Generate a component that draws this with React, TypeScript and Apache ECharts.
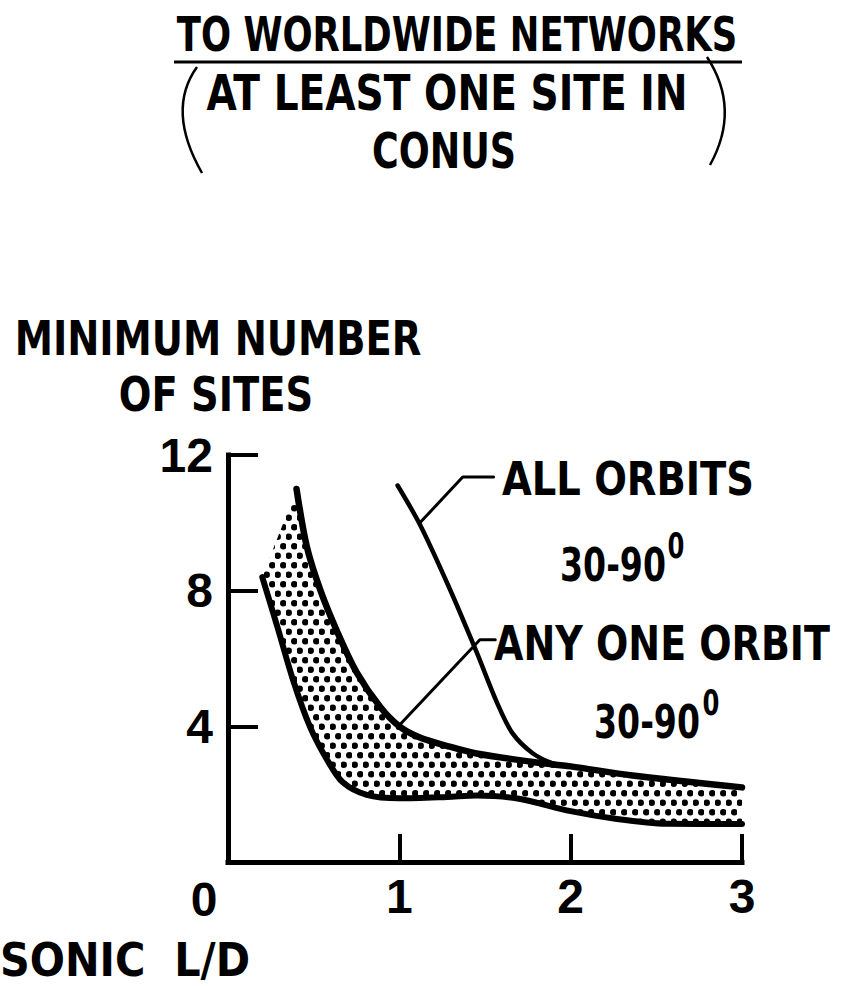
import React, { useEffect, useRef } from 'react';
import * as echarts from 'echarts';

// Axis ranges and tick spacing
const xRange = [0, 3];
const xStep = 1;
const yRange = [0, 12];
const yStep = 4;

// Upper edge of the stippled band: [sonic L/D, minimum number of sites]
const upperBand: [number, number][] = [
  [0.4, 11.0], [0.46, 9.3], [0.54, 8.0], [0.64, 6.76], [0.75, 5.6], [0.89, 4.56],
  [1.0, 4.0], [1.12, 3.67], [1.28, 3.42], [1.45, 3.2], [1.78, 2.95], [2.0, 2.82],
  [2.36, 2.55], [3.0, 2.2],
];

// Lower edge of the stippled band
const lowerBand: [number, number][] = [
  [0.2, 8.4], [0.29, 6.9], [0.38, 5.36], [0.48, 3.97], [0.58, 3.0], [0.67, 2.35],
  [0.81, 1.98], [1.0, 1.88], [1.28, 1.92], [1.45, 1.96], [1.69, 1.87], [2.0, 1.5],
  [2.27, 1.27], [2.56, 1.13], [3.0, 1.12],
];

// "All orbits 30-90°" curve
const allOrbits: [number, number][] = [
  [0.99, 11.1], [1.12, 9.95], [1.29, 8.1], [1.45, 6.2], [1.57, 4.7], [1.66, 3.8],
  [1.78, 3.2], [1.9, 2.9], [2.0, 2.82],
];

// Leader lines from the labels to their curves
const allOrbitsLeader: [number, number][] = [[1.12, 10.0], [1.37, 11.35], [1.55, 11.35]];
const anyOrbitLeader: [number, number][] = [[1.0, 4.03], [1.47, 6.55], [1.56, 6.55]];

const FONT = "'DejaVu Sans Condensed', 'DejaVu Sans', sans-serif";
const DIGIT_FONT = "'Liberation Sans', 'DejaVu Sans Condensed', sans-serif";
const INK = '#000';

// Hexagonal dot screen used for the shaded band
function makeStipple(): HTMLCanvasElement {
  const c = document.createElement('canvas');
  c.width = 11;
  c.height = 19;
  const ctx = c.getContext('2d')!;
  ctx.fillStyle = INK;
  const dots = [[2.75, 4.75], [8.25, 14.25]];
  for (const [cx, cy] of dots) {
    ctx.beginPath();
    ctx.arc(cx, cy, 3.2, 0, Math.PI * 2);
    ctx.fill();
  }
  return c;
}

function txt(text: string, x: number, y: number, size: number, sx = 1, family = FONT) {
  return {
    type: 'text',
    x,
    y,
    scaleX: sx,
    silent: true,
    style: {
      text,
      fill: INK,
      fontSize: size,
      fontFamily: family,
      fontWeight: 'bold',
      align: 'center',
      verticalAlign: 'middle',
      textAlign: 'center',
      textVerticalAlign: 'middle',
    },
  };
}

export default function App() {
  const ref = useRef<HTMLDivElement>(null);

  useEffect(() => {
    if (!ref.current) return;
    const chart = echarts.init(ref.current, null, { renderer: 'svg' });
    const stipple = makeStipple();

    const lineSeries = (data: [number, number][], width: number, smooth: number | boolean) => ({
      type: 'line',
      data,
      smooth,
      symbol: 'none',
      silent: true,
      z: 3,
      lineStyle: { color: INK, width, cap: 'round', join: 'round' },
    });

    const axisLabel = {
      showMinLabel: false,
      color: INK,
      fontSize: 48,
      fontFamily: DIGIT_FONT,
      fontWeight: 'bold',
    };

    chart.setOption({
      animation: false,
      backgroundColor: '#fff',
      grid: { left: 228, right: 99, top: 455, bottom: 124, containLabel: false },
      xAxis: {
        type: 'value',
        min: xRange[0],
        max: xRange[1],
        interval: xStep,
        axisLine: { show: true, lineStyle: { color: INK, width: 5, cap: 'square' } },
        axisTick: { show: true, inside: true, length: 28, lineStyle: { color: INK, width: 4 } },
        axisLabel: { ...axisLabel, margin: 10 },
        splitLine: { show: false },
      },
      yAxis: {
        type: 'value',
        min: yRange[0],
        max: yRange[1],
        interval: yStep,
        axisLine: { show: true, lineStyle: { color: INK, width: 5, cap: 'square' } },
        axisTick: { show: true, inside: true, length: 30, lineStyle: { color: INK, width: 4 } },
        axisLabel: { ...axisLabel, margin: 15 },
        splitLine: { show: false },
      },
      series: [
        {
          type: 'custom',
          silent: true,
          z: 1,
          data: [[0, 0]],
          renderItem: (_params: any, api: any) => {
            const pts = [
              ...lowerBand.map((p) => api.coord(p)),
              ...upperBand.slice().reverse().map((p) => api.coord(p)),
            ];
            return {
              type: 'polygon',
              shape: { points: pts },
              style: { fill: { image: stipple, repeat: 'repeat' }, stroke: 'none' },
            };
          },
        },
        lineSeries(upperBand, 6.5, 0.3),
        lineSeries(lowerBand, 6, 0.3),
        lineSeries(allOrbits, 4.5, 0.3),
        lineSeries(allOrbitsLeader, 3, false),
        lineSeries(anyOrbitLeader, 3, false),
      ],
      graphic: [
        txt('TO WORLDWIDE NETWORKS', 457, 34, 48, 0.82),
        {
          type: 'line',
          silent: true,
          shape: { x1: 174, y1: 62, x2: 742, y2: 62 },
          style: { stroke: INK, lineWidth: 3 },
        },
        txt('AT LEAST ONE SITE IN', 447, 93, 50, 0.87),
        txt('CONUS', 444, 151, 50, 0.81),
        {
          type: 'bezierCurve',
          silent: true,
          shape: { x1: 197, y1: 67, x2: 202, y2: 173, cpx1: 166, cpy1: 110 },
          style: { stroke: INK, lineWidth: 2.5, fill: 'none' },
        },
        {
          type: 'bezierCurve',
          silent: true,
          shape: { x1: 707, y1: 57, x2: 710, y2: 165, cpx1: 741, cpy1: 109 },
          style: { stroke: INK, lineWidth: 2.5, fill: 'none' },
        },
        txt('MINIMUM NUMBER', 218, 339, 48, 0.89),
        txt('OF SITES', 216, 395, 48, 0.89),
        txt('0', 204, 899, 48, 1, DIGIT_FONT),
        txt('SONIC  L/D', 125, 960, 46, 1),
        txt('ALL ORBITS', 628, 479, 46, 0.93),
        txt('30-90', 613, 565, 46, 0.8),
        txt('0', 676, 546, 36, 0.75),
        txt('ANY ONE ORBIT', 662, 644, 48, 0.88),
        txt('30-90', 647, 722, 46, 0.8),
        txt('0', 711, 703, 36, 0.75),
      ],
    });

    return () => chart.dispose();
  }, []);

  return (
    <div
      ref={ref}
      style={{ position: 'fixed', left: 0, top: 0, width: 841, height: 986, background: '#fff' }}
    />
  );
}
